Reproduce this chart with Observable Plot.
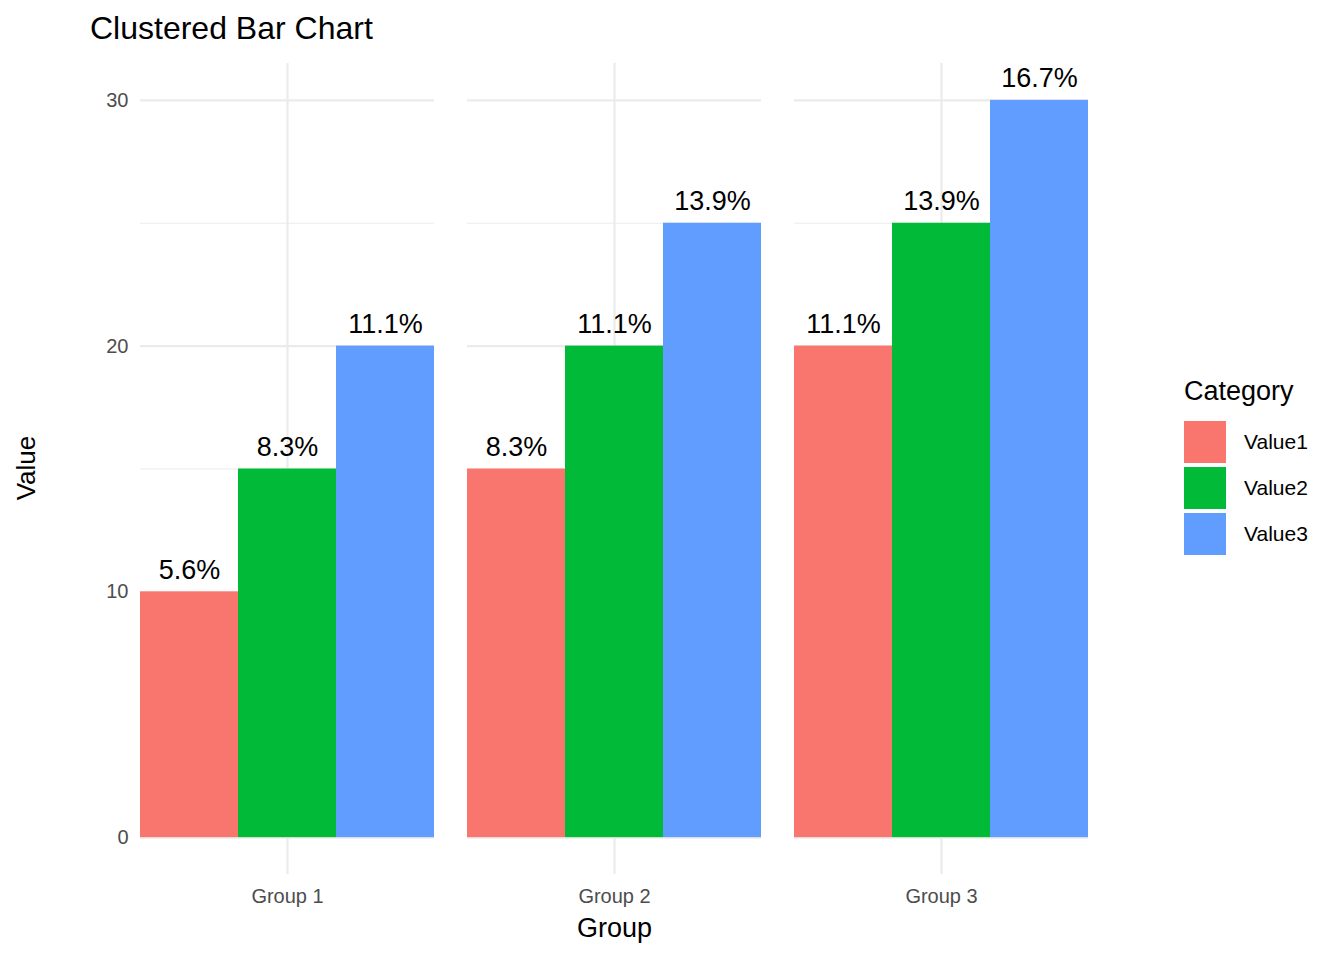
<!DOCTYPE html>
<html>
<head>
<meta charset="utf-8">
<script src="https://cdn.jsdelivr.net/npm/d3@7"></script>
<script src="https://cdn.jsdelivr.net/npm/@observablehq/plot@0.6"></script>
<style>
  body { margin: 0; background: #fff; font-family: "Liberation Sans", Arial, sans-serif; }
  #wrap { position: relative; width: 1344px; height: 960px; }
  #title { position: absolute; left: 90px; top: 10px; font-size: 32px; color: #000; }
  #ylab { position: absolute; left: 26px; top: 468px; font-size: 26px; transform: translate(-50%, -50%) rotate(-90deg); }
  #legend { position: absolute; left: 1184px; top: 376px; }
  #legend .h { font-size: 27px; margin-bottom: 12px; }
  #legend .row { display: flex; align-items: center; height: 46px; font-size: 21px; }
  #legend .sw { width: 42px; height: 42px; margin-right: 18px; }
</style>
</head>
<body>
<div id="wrap">
  <div id="title">Clustered Bar Chart</div>
  <div id="ylab">Value</div>
  <div id="legend"></div>
</div>
<script>
const groups = ["Group 1", "Group 2", "Group 3"];
const categories = ["Value1", "Value2", "Value3"];
const value1 = [10, 15, 20];
const value2 = [15, 20, 25];
const value3 = [20, 25, 30];
const colors = ["#F8766D", "#00BA38", "#619CFF"];

const series = [value1, value2, value3];
const total = d3.sum(series.flat());
const rows = [];
groups.forEach((g, i) => categories.forEach((c, j) => {
  const v = series[j][i];
  rows.push({group: g, category: c, value: v, label: (v / total * 100).toFixed(1) + "%"});
}));

const chart = Plot.plot({
  width: 1344, height: 960,
  marginLeft: 90, marginRight: 206, marginTop: 63, marginBottom: 86,
  style: {fontFamily: "Liberation Sans, Arial, sans-serif", background: "transparent"},
  fx: {domain: groups, paddingInner: 0.1, paddingOuter: 0.15, label: null},
  x: {domain: categories, padding: 0, axis: null},
  y: {domain: [-1.5, 31.5], axis: null},
  color: {domain: categories, range: colors},
  marks: [
    Plot.ruleY([5, 15, 25], {stroke: "#ebebeb", strokeWidth: 1.2, facetAnchor: null}),
    Plot.ruleY([0, 10, 20, 30], {stroke: "#ebebeb", strokeWidth: 2.2}),
    Plot.gridFx({stroke: "#ebebeb", strokeOpacity: 1, strokeWidth: 2.2}),
    Plot.axisFx({anchor: "bottom", tickSize: 0, tickPadding: 14, fontSize: 20, fill: "#4d4d4d", label: "Group", labelAnchor: "center", labelOffset: 62}),
    Plot.axisY({ticks: [0, 10, 20, 30], tickSize: 0, tickPadding: 12, fontSize: 20, fill: "#4d4d4d", label: null, anchor: "left"}),
    Plot.barY(rows, {fx: "group", x: "category", y: "value", fill: "category"}),
    Plot.text(rows, {fx: "group", x: "category", y: "value", text: "label", dy: -22, fontSize: 27, fill: "#000"})
  ]
});
chart.style.position = "absolute";
chart.style.left = "0";
chart.style.top = "0";
document.getElementById("wrap").prepend(chart);
// style axis label "Group"
chart.querySelectorAll("text").forEach(t => { if (t.textContent === "Group") { t.setAttribute("font-size", 27); t.setAttribute("fill", "#000"); } });

const lg = document.getElementById("legend");
lg.innerHTML = '<div class="h">Category</div>' + categories.map((c, i) =>
  `<div class="row"><div class="sw" style="background:${colors[i]}"></div>${c}</div>`).join("");
</script>
</body>
</html>
